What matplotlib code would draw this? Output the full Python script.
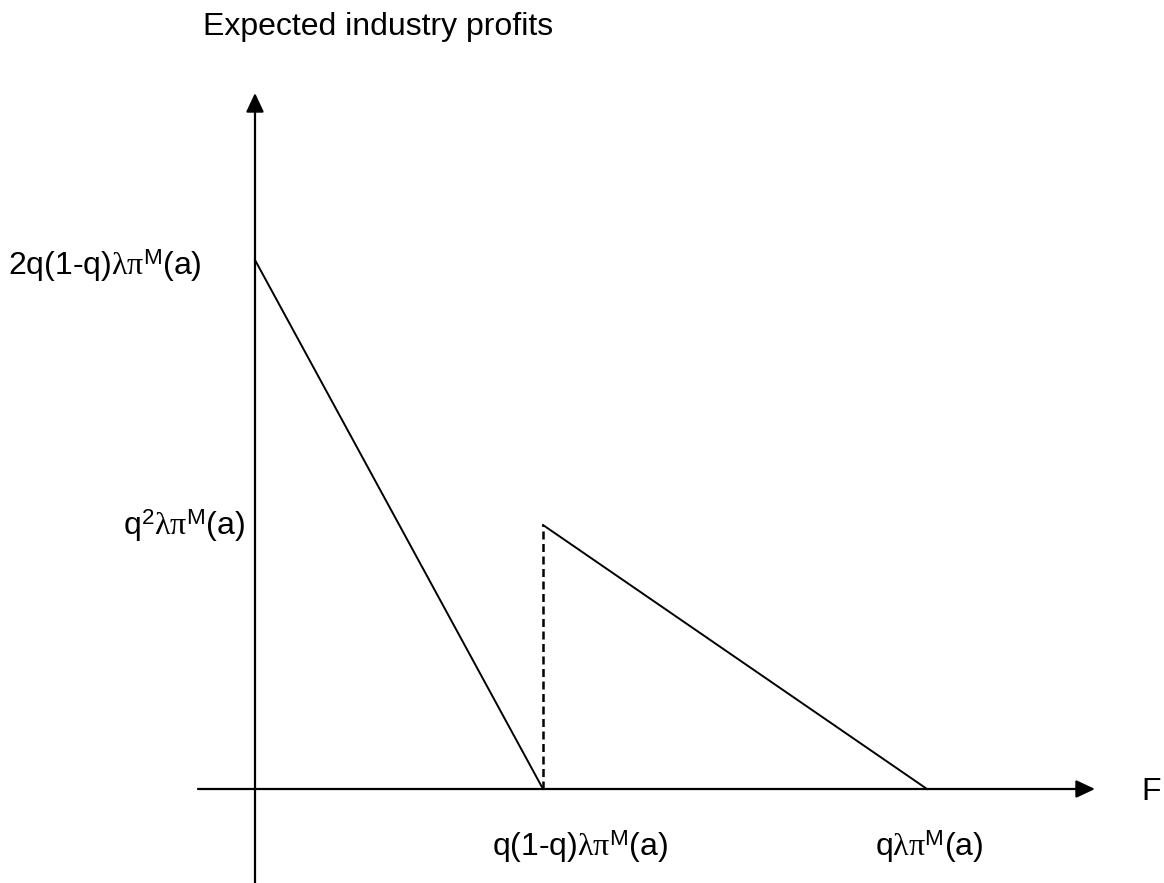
import matplotlib
matplotlib.use("Agg")
import matplotlib.pyplot as plt

plt.rcParams['font.family'] = ['Liberation Sans', 'DejaVu Sans']
plt.rcParams['mathtext.fontset'] = 'custom'
plt.rcParams['mathtext.rm'] = 'Liberation Serif'
plt.rcParams['mathtext.it'] = 'Liberation Serif:italic'

# Piecewise-linear profit curve (units: arbitrary)
y_top = 529      # 2q(1-q) lambda pi^M(a)
y_jump = 264     # q^2 lambda pi^M(a)
x_mid = 288      # q(1-q) lambda pi^M(a)
x_end = 672      # q lambda pi^M(a)

seg1_x = [0, x_mid]
seg1_y = [y_top, 0]
seg2_x = [x_mid, x_end]
seg2_y = [y_jump, 0]

gr = r'$\mathrm{\lambda\pi}^{\mathregular{M}}$'
ylabels = ['2q(1-q)' + gr + '(a)', 'q$^{\\mathregular{2}}$' + gr + '(a)']
xlabels = ['q(1-q)' + gr + '(a)', 'q' + gr + '(a)']

fig = plt.figure(figsize=(11.64, 8.83), dpi=100)
ax = fig.add_axes([0, 0, 1, 1])
ax.set_xlim(-255, 909)
ax.set_ylim(-94, 789)
ax.axis('off')

arrow = dict(arrowstyle='-|>,head_length=1.15,head_width=0.54', mutation_scale=10,
             lw=1.6, color='black', shrinkA=0, shrinkB=0)
ax.annotate('', xy=(840, 0), xytext=(-57, 0), arrowprops=arrow)
ax.annotate('', xy=(0, 696), xytext=(0, -94), arrowprops=arrow)

ax.plot(seg1_x, seg1_y, color='black', lw=1.4)
ax.plot(seg2_x, seg2_y, color='black', lw=1.4)
ax.plot([x_mid, x_mid], [0, y_jump], color='black', lw=1.8, ls='--', dashes=(3.2, 1.8))

fs = 23
ax.text(-52, 777, 'Expected industry profits', fontsize=fs, ha='left', va='top')
ax.text(-53, y_top - 6, ylabels[0], fontsize=fs, ha='right', va='center')
ax.text(-10, y_jump - 1, ylabels[1], fontsize=fs, ha='right', va='center')
ax.text(x_mid + 37, -58, xlabels[0], fontsize=fs, ha='center', va='center')
ax.text(x_end + 2, -58, xlabels[1], fontsize=fs, ha='center', va='center')
ax.text(886, -3, 'F', fontsize=fs, ha='left', va='center')

fig.savefig('out.png', dpi=100)
